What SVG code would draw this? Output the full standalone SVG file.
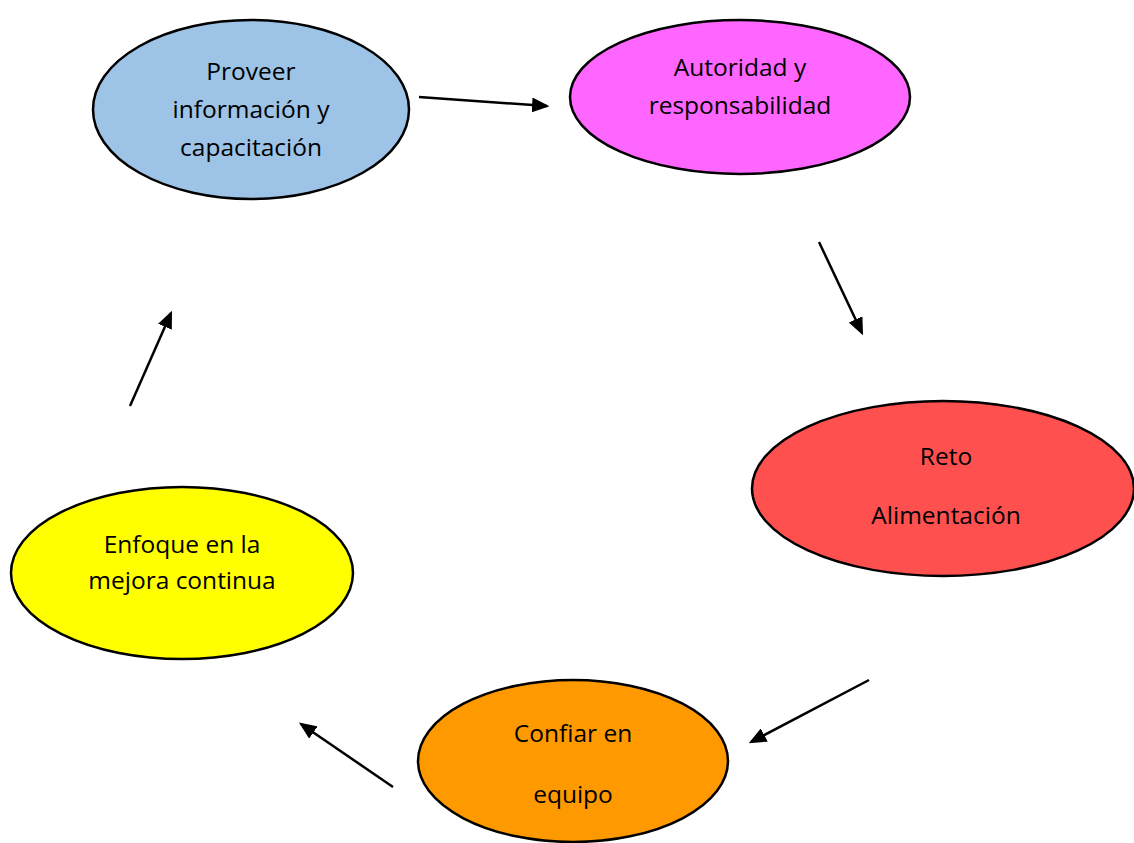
<svg xmlns="http://www.w3.org/2000/svg" width="1134" height="843" viewBox="0 0 1134 843">
<style>
.n{stroke:#000;stroke-width:2.5}
.t{font-family:"Open Sans","Liberation Sans",sans-serif;font-size:24.5px;fill:#000;text-anchor:middle}
.c{stroke:#000;stroke-width:2.5;fill:none;marker-end:url(#ah)}
</style>
<defs>
<marker id="ah" markerWidth="7" markerHeight="6" refX="6" refY="3" orient="auto" markerUnits="strokeWidth">
<path d="M0,0 L7,3 L0,6 Z" fill="#000"/>
</marker>
</defs>
<rect width="1134" height="843" fill="#fff"/>
<g id="n1">
<ellipse class="n" cx="251" cy="109.5" rx="158" ry="89.5" fill="#9DC3E6"/>
<text class="t" x="251" y="80">Proveer</text>
<text class="t" x="251" y="118">información y</text>
<text class="t" x="251" y="156">capacitación</text>
</g>
<g id="n2">
<ellipse class="n" cx="740" cy="97" rx="170" ry="77" fill="#FF66FF"/>
<text class="t" x="740" y="76">Autoridad y</text>
<text class="t" x="740" y="114">responsabilidad</text>
</g>
<g id="n3">
<ellipse class="n" cx="943" cy="488.5" rx="191" ry="87.5" fill="#FF5050"/>
<text class="t" x="946" y="465">Reto</text>
<text class="t" x="946" y="524">Alimentación</text>
</g>
<g id="n4">
<ellipse class="n" cx="573" cy="761" rx="155" ry="81" fill="#FF9900"/>
<text class="t" x="573" y="742">Confiar en</text>
<text class="t" x="573" y="803">equipo</text>
</g>
<g id="n5">
<ellipse class="n" cx="182" cy="573" rx="171" ry="86" fill="#FFFF00"/>
<text class="t" x="182" y="553">Enfoque en la</text>
<text class="t" x="182" y="589">mejora continua</text>
</g>
<g id="connectors">
<line class="c" x1="419" y1="97" x2="547" y2="106"/>
<line class="c" x1="819" y1="242" x2="862" y2="333"/>
<line class="c" x1="869" y1="680" x2="751" y2="742"/>
<line class="c" x1="393" y1="787" x2="301" y2="724"/>
<line class="c" x1="130" y1="406" x2="171" y2="313"/>
</g>
</svg>
